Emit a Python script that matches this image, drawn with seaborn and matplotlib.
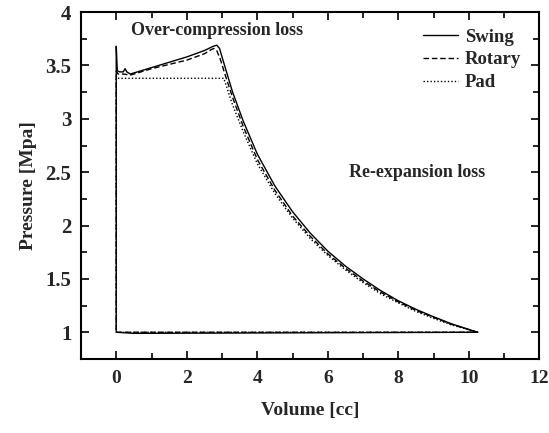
import numpy as np
import pandas as pd
import matplotlib
matplotlib.use("Agg")
import matplotlib.pyplot as plt
import seaborn as sns
from matplotlib.ticker import MultipleLocator

# ---- data ----
swing_v = [10.25, 9.5, 9.0, 8.5, 8.0, 7.5, 7.0, 6.5, 6.0, 5.5, 5.0, 4.5, 4.0, 3.6, 3.3, 3.1, 3.0, 2.93, 2.85, 2.75,
           2.5, 2.0, 1.5, 1.0, 0.6, 0.4, 0.3, 0.25, 0.2, 0.1, 0.03, 0.0, 0.0, 0.5, 10.25]
swing_p = [1.00, 1.08, 1.145, 1.215, 1.295, 1.39, 1.50, 1.62, 1.76, 1.93, 2.13, 2.37, 2.67, 2.98, 3.25, 3.47, 3.58, 3.66, 3.69, 3.68,
           3.64, 3.58, 3.53, 3.48, 3.44, 3.42, 3.44, 3.47, 3.44, 3.44, 3.45, 3.68, 1.00, 0.99, 1.00]

rotary_v = [10.25, 9.5, 9.0, 8.5, 8.0, 7.5, 7.0, 6.5, 6.0, 5.5, 5.0, 4.5, 4.0, 3.6, 3.3, 3.1, 2.95, 2.85, 2.78, 2.7,
            2.5, 2.0, 1.5, 1.0, 0.6, 0.4, 0.2, 0.05, 0.0, 0.0, 10.25]
rotary_p = [1.00, 1.075, 1.14, 1.205, 1.285, 1.375, 1.48, 1.60, 1.735, 1.90, 2.09, 2.33, 2.62, 2.93, 3.20, 3.40, 3.56, 3.64, 3.66, 3.65,
            3.61, 3.55, 3.51, 3.47, 3.43, 3.41, 3.42, 3.42, 3.45, 1.00, 1.00]

pad_v = [10.25, 9.5, 9.0, 8.5, 8.0, 7.5, 7.0, 6.5, 6.0, 5.5, 5.0, 4.5, 4.0, 3.6, 3.3, 3.05, 0.0, 0.0, 10.25]
pad_p = [1.00, 1.07, 1.13, 1.195, 1.275, 1.36, 1.465, 1.585, 1.72, 1.88, 2.07, 2.30, 2.58, 2.88, 3.13, 3.38, 3.38, 1.00, 1.00]

series_names = ["Swing", "Rotary", "Pad"]
x_ticks = [0, 2, 4, 6, 8, 10, 12]
y_ticks = [1, 1.5, 2, 2.5, 3, 3.5, 4]
y_ticklabels = ["1", "1.5", "2", "2.5", "3", "3.5", "4"]

frames = []
for name, v, p in zip(series_names, [swing_v, rotary_v, pad_v], [swing_p, rotary_p, pad_p]):
    frames.append(pd.DataFrame({"V": v, "P": p, "series": name, "order": range(len(v))}))
df = pd.concat(frames, ignore_index=True)

sns.set_style("ticks")
plt.rcParams["font.family"] = ["Liberation Serif", "DejaVu Serif"]
plt.rcParams["font.weight"] = "bold"

fig = plt.figure(figsize=(5.49, 4.33), dpi=100)
ax = fig.add_axes([0.1475, 0.171, 0.835, 0.801])

sns.lineplot(data=df, x="V", y="P", hue="series", style="series",
             palette={"Swing": "black", "Rotary": "black", "Pad": "black"},
             dashes={"Swing": "", "Rotary": (4, 2), "Pad": (1, 1.5)},
             sort=False, estimator=None, units="series", lw=1.0, ax=ax, legend=True)

ax.set_xlim(-1, 12)
ax.set_ylim(0.75, 4)
ax.set_xticks(x_ticks)
ax.set_xticklabels([str(t) for t in x_ticks])
ax.set_yticks(y_ticks)
ax.set_yticklabels(y_ticklabels)
ax.xaxis.set_minor_locator(MultipleLocator(1))
ax.yaxis.set_minor_locator(MultipleLocator(0.25))
ax.tick_params(which="both", direction="in", top=True, right=True, width=1.2, color="black")
ax.tick_params(which="major", length=6)
ax.tick_params(which="minor", length=4)
ax.tick_params(axis="x", which="major", labelsize=14, pad=8)
ax.tick_params(axis="y", which="major", labelsize=15, pad=7)
for lab in ax.get_xticklabels() + ax.get_yticklabels():
    lab.set_fontweight("bold")
for s in ax.spines.values():
    s.set_linewidth(1.5)
    s.set_color("black")

ax.set_xlabel("Volume [cc]", fontsize=14, fontweight="bold", labelpad=11)
ax.set_ylabel("Pressure [Mpa]", fontsize=14, fontweight="bold", labelpad=6)

ax.text(0.42, 3.83, "Over-compression loss", fontsize=13, fontweight="bold", va="center", ha="left")
ax.text(6.6, 2.50, "Re-expansion loss", fontsize=13, fontweight="bold", va="center", ha="left")

leg = ax.legend(loc="upper right", bbox_to_anchor=(0.985, 0.985), frameon=False, fontsize=13.5,
                handlelength=1.9, handletextpad=0.35, labelspacing=0.3, borderaxespad=0.2)
for t in leg.get_texts():
    t.set_fontweight("bold")

fig.savefig("out.png", dpi=100)
